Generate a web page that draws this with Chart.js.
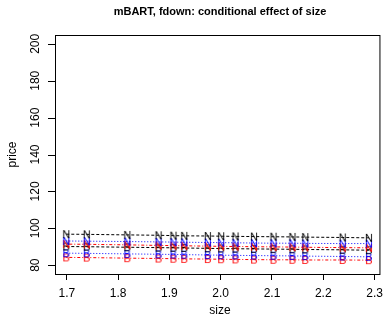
<!DOCTYPE html>
<html>
<head>
<meta charset="utf-8">
<script src="https://cdn.jsdelivr.net/npm/chart.js@4/dist/chart.umd.min.js"></script>
<style>
  html, body { margin: 0; padding: 0; background: #fff; }
  #wrap { width: 389px; height: 320px; }
</style>
</head>
<body>
<div id="wrap"><canvas id="SizeEffect" width="389" height="320"></canvas></div>
<script>
//
// Data
var sizes = [1.699, 1.739, 1.818, 1.879, 1.908, 1.929, 1.975, 2.001, 2.029, 2.065, 2.103, 2.140, 2.165, 2.238, 2.289];
var n_black = [96.8, 96.7, 96.4, 96.2, 96.0, 95.9, 95.8, 95.7, 95.6, 95.5, 95.4, 95.3, 95.2, 95.0, 94.8];
var n_blue  = [93.1, 93.0, 92.8, 92.6, 92.5, 92.4, 92.3, 92.2, 92.1, 92.0, 91.9, 91.9, 91.8, 91.7, 91.7];
var n_red   = [91.4, 91.3, 91.0, 90.7, 90.6, 90.5, 90.3, 90.2, 90.1, 90.0, 89.9, 89.8, 89.7, 89.5, 89.4];
var b_black = [90.1, 90.0, 89.7, 89.5, 89.4, 89.3, 89.1, 89.0, 88.9, 88.8, 88.7, 88.6, 88.5, 88.3, 88.1];
var b_blue  = [86.5, 86.4, 86.1, 85.9, 85.8, 85.7, 85.5, 85.4, 85.3, 85.2, 85.1, 85.0, 84.9, 84.7, 84.5];
var b_red   = [84.2, 84.1, 83.8, 83.6, 83.5, 83.4, 83.3, 83.2, 83.1, 83.0, 82.9, 82.9, 82.8, 82.8, 82.7];
var x_ticks = [1.7, 1.8, 1.9, 2.0, 2.1, 2.2, 2.3];
var y_ticks = [80, 100, 120, 140, 160, 180, 200];

var FONT = '"Liberation Sans", Arial, Helvetica, sans-serif';

//
// Letter markers
function letter(ch, color) {
    var c = document.createElement('canvas');
    c.width = 10; c.height = 12;
    var g = c.getContext('2d');
    g.font = '11px ' + FONT;
    g.fillStyle = color;
    g.textAlign = 'center';
    g.textBaseline = 'middle';
    g.fillText(ch, 5, 6.5);
    return c;
}

function series(values, ch, color, dash) {
    return {
        data: sizes.map(function(s, i) { return {x: s, y: values[i]}; }),
        borderColor: color,
        borderWidth: 1,
        borderDash: dash,
        pointStyle: letter(ch, color),
        pointRadius: 5,
        tension: 0,
        fill: false
    };
}

var dashed = [3, 2], dotted = [1, 2], dashdot = [1, 2, 3, 2];

//
// Box, title, axis labels
var framePlugin = {
    id: 'frame',
    afterDraw: function(chart) {
        var ctx = chart.ctx, a = chart.chartArea;
        ctx.save();
        ctx.strokeStyle = '#000';
        ctx.lineWidth = 1;
        ctx.strokeRect(a.left + 0.5, a.top + 0.5, a.right - a.left - 1, a.bottom - a.top);

        ctx.fillStyle = '#000';
        ctx.textAlign = 'center';
        ctx.textBaseline = 'middle';
        ctx.font = 'bold 11px ' + FONT;
        ctx.fillText('mBART, fdown: conditional effect of size', 220, 12);

        ctx.font = '12px ' + FONT;
        ctx.fillText('size', 220, 311);

        // y ticks, rotated labels as in R
        var ys = chart.scales.y;
        y_ticks.forEach(function(v) {
            var py = Math.round(ys.getPixelForValue(v)) + 0.5;
            ctx.beginPath();
            ctx.moveTo(a.left - 7, py);
            ctx.lineTo(a.left, py);
            ctx.stroke();
            ctx.save();
            ctx.translate(36, ys.getPixelForValue(v));
            ctx.rotate(-Math.PI / 2);
            ctx.fillText(String(v), 0, 0);
            ctx.restore();
        });
        ctx.save();
        ctx.translate(13, (a.top + a.bottom) / 2);
        ctx.rotate(-Math.PI / 2);
        ctx.fillText('price', 0, 0);
        ctx.restore();
        ctx.restore();
    }
};

new Chart(document.getElementById('SizeEffect').getContext('2d'), {
    type: 'line',
    data: {
        datasets: [
            series(n_black, 'N', '#000000', dashed),
            series(n_blue, 'N', '#0000FF', dotted),
            series(n_red, 'N', '#FF0000', dashdot),
            series(b_black, 'B', '#000000', dashed),
            series(b_blue, 'B', '#0000FF', dotted),
            series(b_red, 'B', '#FF0000', dashdot)
        ]
    },
    options: {
        responsive: false,
        animation: false,
        layout: { padding: { top: 35, right: 4, left: 0, bottom: 0 } },
        plugins: {
            legend: { display: false },
            tooltip: { enabled: false }
        },
        scales: {
            x: {
                type: 'linear',
                min: 1.677,
                max: 2.3115,
                afterBuildTicks: function(s) { s.ticks = x_ticks.map(function(v) { return {value: v}; }); },
                afterFit: function(s) { s.height = 46; },
                grid: { drawOnChartArea: false, color: '#000', tickLength: 6, tickWidth: 1 },
                border: { display: false },
                ticks: {
                    color: '#000',
                    padding: 6,
                    maxRotation: 0,
                    font: { family: FONT, size: 12 },
                    callback: function(v) { return v.toFixed(1); }
                }
            },
            y: {
                type: 'linear',
                min: 75.2,
                max: 204.8,
                afterBuildTicks: function(s) { s.ticks = y_ticks.map(function(v) { return {value: v}; }); },
                afterFit: function(s) { s.width = 55; },
                grid: { display: false },
                border: { display: false },
                ticks: { display: false }
            }
        }
    },
    plugins: [framePlugin]
});
</script>
</body>
</html>
